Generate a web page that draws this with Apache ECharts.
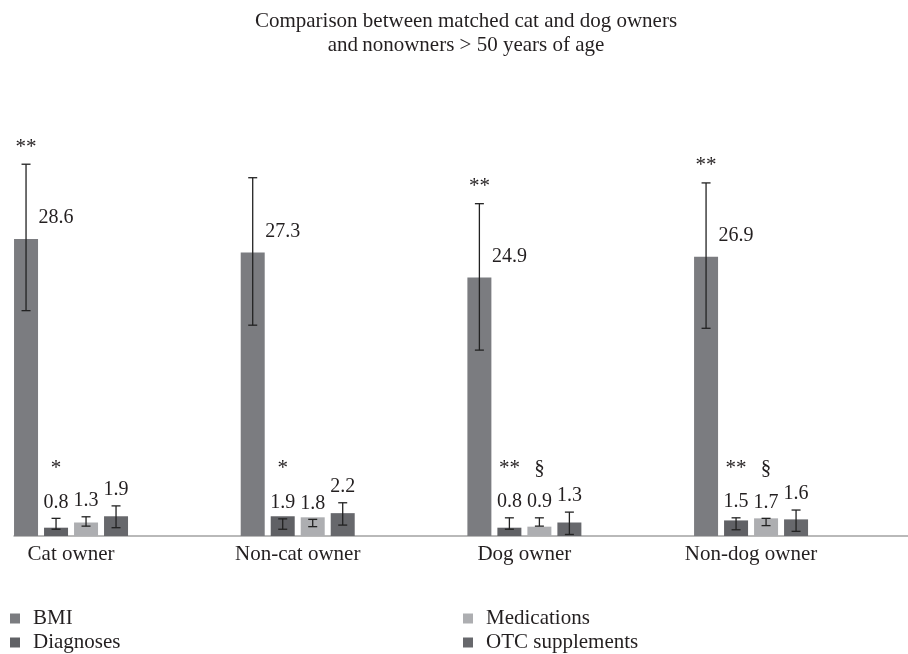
<!DOCTYPE html>
<html>
<head>
<meta charset="utf-8">
<script src="https://cdn.jsdelivr.net/npm/echarts@6/dist/echarts.min.js"></script>
<style>
html,body{margin:0;padding:0;background:#fff;}
#chart{width:908px;height:654px;}
</style>
</head>
<body>
<div id="chart"></div>
<script>
// ---- data ----
var categories = ['Cat owner', 'Non-cat owner', 'Dog owner', 'Non-dog owner'];
var seriesNames = ['BMI', 'Diagnoses', 'Medications', 'OTC supplements'];
var bmi = [28.6, 27.3, 24.9, 26.9];
var diagnoses = [0.8, 1.9, 0.8, 1.5];
var medications = [1.3, 1.8, 0.9, 1.7];
var otc = [1.9, 2.2, 1.3, 1.6];
// error bar ends (low / high)
var bmiLow = [21.7, 20.3, 17.9, 20.0];
var bmiHigh = [35.8, 34.5, 32.0, 34.0];
var diagLow = [0.65, 0.65, 0.65, 0.6];
var diagHigh = [1.7, 1.65, 1.75, 1.75];
var medLow = [0.95, 0.9, 0.95, 1.0];
var medHigh = [1.85, 1.6, 1.75, 1.7];
var otcLow = [0.8, 1.05, 0.15, 0.45];
var otcHigh = [2.9, 3.2, 2.3, 2.5];
// significance markers
var bmiMarks = ['**', '', '**', '**'];
var diagMarks = ['*', '*', '**', '**'];
var medMarks = ['', '', '\u00a7', '\u00a7'];
var otcMarks = ['', '', '', ''];

var values = [bmi, diagnoses, medications, otc];
var lows = [bmiLow, diagLow, medLow, otcLow];
var highs = [bmiHigh, diagHigh, medHigh, otcHigh];
var marks = [bmiMarks, diagMarks, medMarks, otcMarks];
var colors = ['#7b7c80', '#606165', '#adaeb1', '#67686c'];

var FONT = 'Liberation Serif';
var TXT = '#231f20';
var BAR_W = 24;
var STEP = 30;           // bar width + gap (barGap 25%)
var SMALL_MARK_LEVEL = 6.5; // axis value where markers above small bars sit

var chart = echarts.init(document.getElementById('chart'));

function makeErr(k) {
  return {
    type: 'custom',
    name: 'err' + k,
    xAxisIndex: 0, yAxisIndex: 0,
    z: 5,
    clip: false,
    data: categories.map(function (c, i) { return [i, lows[k][i], highs[k][i]]; }),
    encode: { x: 0, y: [1, 2] },
    renderItem: function (params, api) {
      var i = params.dataIndex;
      var cx = api.coord([i, 0])[0] + (k - 1.5) * STEP;
      var yL = api.coord([i, lows[k][i]])[1];
      var yH = api.coord([i, highs[k][i]])[1];
      var yB = api.coord([i, values[k][i]])[1];
      var ls = { stroke: '#222', lineWidth: 1.3 };
      var ch = [
        { type: 'line', shape: { x1: cx, y1: yL, x2: cx, y2: yH }, style: ls },
        { type: 'line', shape: { x1: cx - 4.5, y1: yH, x2: cx + 4.5, y2: yH }, style: ls },
        { type: 'line', shape: { x1: cx - 4.5, y1: yL, x2: cx + 4.5, y2: yL }, style: ls }
      ];
      var lx, ly, mx, my;
      if (k === 0) {
        lx = cx + 30; ly = yB - 21;
        mx = cx; my = yH - 17;
      } else {
        lx = cx; ly = yH - 16;
        mx = cx; my = api.coord([i, SMALL_MARK_LEVEL])[1];
      }
      ch.push({ type: 'text', x: lx, y: ly, style: {
        text: values[k][i].toFixed(1), fill: TXT, font: '20px "' + FONT + '"',
        align: 'center', verticalAlign: 'middle' } });
      if (marks[k][i]) {
        ch.push({ type: 'text', x: mx, y: my, style: {
          text: marks[k][i], fill: TXT, font: '21px "' + FONT + '"',
          align: 'center', verticalAlign: 'middle' } });
      }
      return { type: 'group', children: ch };
    }
  };
}

var series = [];
seriesNames.forEach(function (n, k) {
  series.push({
    type: 'bar', name: n, xAxisIndex: 0, yAxisIndex: 0,
    data: values[k], barWidth: BAR_W, barGap: '25%',
    itemStyle: { color: colors[k] },
    silent: true
  });
});
seriesNames.forEach(function (n, k) { series.push(makeErr(k)); });

var legendCommon = {
  orient: 'vertical', top: 608, height: 46, padding: 0,
  itemWidth: 10, itemHeight: 10, itemGap: 3,
  itemTextGap: 12, icon: 'rect',
  textStyle: { fontFamily: FONT, fontSize: 21, color: TXT, lineHeight: 21, padding: [0, 0, 0, 8] }
};

chart.setOption({
  animation: false,
  textStyle: { fontFamily: FONT },
  title: {
    text: 'Comparison between matched cat and dog owners\nand\u2009nonowners > 50 years of age',
    left: 461, textAlign: 'center', top: 4,
    textStyle: { fontFamily: FONT, fontSize: 21, fontWeight: 'normal', color: TXT, lineHeight: 24 }
  },
  legend: [
    Object.assign({}, legendCommon, { left: 10, data: ['BMI', 'Diagnoses'] }),
    Object.assign({}, legendCommon, { left: 463, data: ['Medications', 'OTC supplements'] })
  ],
  grid: [
    { left: -42.3, right: 43.6, top: 120.6, bottom: 118, containLabel: false, outerBoundsMode: 'none' },
    { left: 14, right: 0, top: 120.6, bottom: 118, containLabel: false, outerBoundsMode: 'none' }
  ],
  xAxis: [
    { type: 'category', gridIndex: 0, data: categories,
      axisLine: { show: false }, axisTick: { show: false },
      axisLabel: { fontFamily: FONT, fontSize: 21, color: TXT, margin: 8 } },
    { type: 'value', gridIndex: 1, min: 0, max: 1,
      axisLine: { show: true, lineStyle: { color: '#a3a3a3', width: 1.5 } },
      axisTick: { show: false }, axisLabel: { show: false }, splitLine: { show: false } }
  ],
  yAxis: [
    { type: 'value', gridIndex: 0, min: 0, max: 40, show: false, splitLine: { show: false } },
    { type: 'value', gridIndex: 1, min: 0, max: 1, show: false, splitLine: { show: false } }
  ],
  series: series
});
</script>
</body>
</html>
